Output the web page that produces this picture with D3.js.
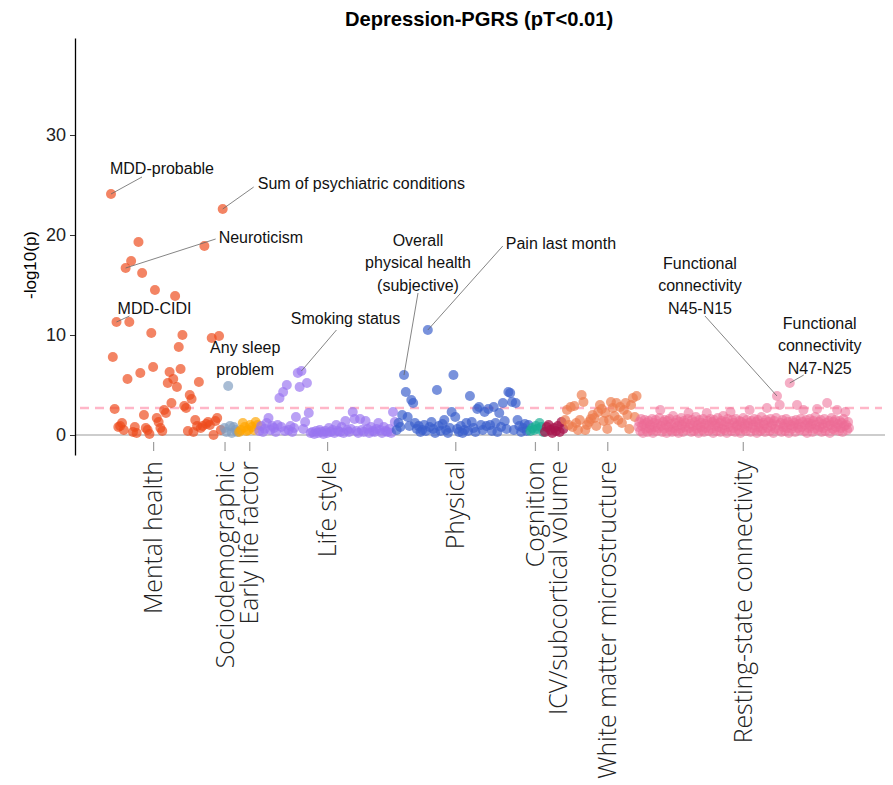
<!DOCTYPE html>
<html>
<head>
<meta charset="utf-8">
<script src="https://cdn.jsdelivr.net/npm/d3@7"></script>
<style>
  body { margin: 0; background: #fff; }
  svg { display: block; }
</style>
</head>
<body>
<script>
// Phenotype categories, in plotting order along the x axis
const categories = [
  "Mental health", "Sociodemographic", "Early life factor", "Life style", "Physical",
  "Cognition", "ICV/subcortical volume", "White matter microstructure", "Resting-state connectivity"
];
const categoryColors = [
  "#EE4A1A", "#7F9CBF", "#FFA500", "#9A75F0", "#3A5FCC",
  "#1BAE94", "#A8154E", "#EE7B4B", "#EC6B96"
];
// number of axis slots given to each category (connectivity traits are packed densely)
const categorySlots = [62, 8, 11, 75, 73, 8, 11, 40, 116];
// axis breaks (in slot units) where each category name is placed
const categoryBreaks = [23, 62, 75.5, 118, 188, 231.5, 244, 271, 345];

// -log10(p) of each phenotype, ordered as on the axis
const mentalHealth = [24.1, 7.8, 2.6, 11.3, 0.8, 0.9, 1.2, 0.5, 16.7, 5.6, 11.3, 17.4, 0.3, 0.8, 0.2, 19.3,
  6.2, 16.2, 2.0, 0.7, 0.5, 0.1, 10.2, 6.8, 14.5, 1.7, 1.3, 0.7, 0.4, 2.5, 2.2, 5.2, 6.3, 3.2, 5.6, 13.9,
  4.8, 8.8, 6.6, 10.0, 2.9, 2.7, 0.4, 4.0, 3.6, 0.3, 1.5, 0.9, 5.3, 0.7, 0.9, 18.9, 1.1, 1.3, 1.0, 9.7,
  0.0, 1.4, 1.7, 9.9, 0.5, 22.6];
const sociodemographic = [0.7, 0.3, 4.9, 0.9, 0.2, 0.8, 0.5, 0.3];
const earlyLife = [0.3, 0.5, 1.2, 0.8, 0.4, 0.5, 1.0, 0.8, 0.5, 1.3, 1.0];
const lifeStyle = [0.4, 0.9, 0.3, 0.6, 1.2, 1.7, 0.5, 0.9, 0.7, 0.3, 1.0, 3.7, 0.8, 4.3, 0.4, 5.0, 0.5,
  0.9, 0.3, 0.7, 1.8, 6.2, 4.8, 6.4, 0.6, 1.3, 5.2, 2.2, 0.2, 0.3, 0.1, 0.4, 0.2, 0.5, 0.3, 0.1, 0.4, 0.2,
  0.7, 0.3, 0.5, 0.2, 1.0, 0.4, 0.3, 0.8, 0.2, 1.4, 0.5, 0.3, 0.6, 2.3, 1.6, 0.4, 0.2, 1.6, 0.5, 0.3, 1.4,
  0.6, 0.2, 0.8, 0.4, 0.3, 0.6, 1.2, 0.5, 0.2, 0.8, 0.4, 0.3, 0.6, 0.2, 2.3, 1.3];
const physical = [0.5, 1.2, 0.8, 2.0, 6.0, 4.3, 1.8, 0.9, 3.5, 3.2, 1.2, 0.6, 0.9, 0.3, 0.5, 1.0, 0.4,
  10.5, 0.8, 1.3, 0.6, 0.2, 4.5, 0.9, 0.4, 1.1, 1.5, 0.5, 0.2, 0.7, 2.3, 6.0, 1.8, 0.6, 0.3, 0.9, 0.2, 0.5,
  1.2, 0.4, 3.9, 1.3, 0.7, 0.3, 2.6, 2.8, 1.0, 0.5, 2.3, 0.9, 2.6, 1.0, 0.4, 2.8, 1.2, 0.3, 2.2, 0.8, 3.2,
  1.4, 0.6, 4.3, 4.2, 3.3, 0.5, 3.2, 1.5, 0.9, 0.3, 0.7, 1.1, 0.4, 1.0];
const cognition = [0.4, 0.7, 0.5, 0.9, 0.6, 1.2, 0.8, 0.3];
const icvSubcortical = [0.3, 0.8, 1.0, 0.5, 0.2, 0.7, 0.4, 0.9, 0.3, 1.3, 0.6];
const whiteMatter = [1.5, 2.5, 1.0, 2.8, 0.8, 2.9, 1.2, 0.5, 1.5, 4.0, 3.3, 0.5, 1.0, 1.3, 1.6, 2.0, 1.7,
  0.9, 2.3, 3.0, 2.6, 1.4, 2.2, 0.6, 1.5, 3.3, 2.7, 1.9, 3.2, 1.5, 2.8, 1.2, 2.5, 3.2, 2.0, 0.6, 3.0, 3.7,
  1.8, 3.9];
const restingState = [
  0.8, 1.3, 0.4, 1.6, 0.9, 0.2, 1.1, 1.5, 0.6, 1.2, 0.3, 1.4, 0.7, 1.0, 0.5, 1.6, 0.2, 1.2, 0.8, 1.5,
  0.4, 1.1, 0.7, 1.7, 2.5, 0.9, 0.3, 1.3, 0.6, 1.5, 1.0, 0.2, 1.4, 0.8, 1.6, 0.5, 1.1, 0.3, 1.9, 0.7,
  1.2, 0.4, 1.5, 0.9, 0.2, 1.3, 0.6, 1.7, 1.0, 0.3, 1.4, 0.8, 1.2, 0.5, 1.6, 2.2, 0.7, 1.1, 0.3, 1.5,
  0.9, 0.4, 1.3, 1.8, 0.6, 1.0, 0.2, 1.5, 0.8, 1.2, 0.5, 1.6, 0.3, 1.1, 0.7, 2.2, 1.4, 0.4, 1.0, 1.6,
  0.6, 1.3, 0.2, 1.5, 0.9, 1.1, 0.4, 1.7, 0.8, 1.2, 0.3, 1.4, 0.6, 1.9, 1.0, 0.5, 1.3, 0.2, 1.6, 0.8,
  1.1, 2.3, 0.4, 1.5, 0.7, 1.2, 0.3, 1.6, 0.9, 1.0, 0.5, 1.4, 0.2, 1.3, 0.8, 1.7, 0.6, 1.1, 0.4, 1.5,
  0.9, 1.2, 2.5, 0.3, 1.4, 0.7, 1.0, 1.6, 0.5, 1.3, 0.2, 1.5, 0.8, 1.1, 0.4, 1.8, 0.6, 1.2, 1.0, 0.3,
  1.5, 2.7, 0.7, 1.3, 0.4, 1.6, 0.9, 1.1, 0.2, 1.4, 0.6, 1.7, 3.9, 1.0, 0.5, 3.0, 1.2, 0.3, 1.5, 0.8,
  1.1, 0.4, 1.6, 0.7, 1.3, 0.2, 5.2, 1.0, 0.6, 1.4, 0.9, 1.2, 0.3, 1.5, 3.0, 0.7, 1.1, 0.5, 1.6, 0.8,
  1.3, 2.5, 0.4, 1.0, 1.5, 0.2, 1.2, 0.7, 1.6, 0.9, 1.1, 0.3, 1.4, 0.6, 1.8, 1.0, 2.6, 0.5, 1.3, 0.8,
  1.5, 0.3, 1.1, 0.7, 1.6, 0.4, 1.2, 3.2, 0.9, 1.4, 0.2, 1.0, 1.7, 0.6, 1.3, 0.5, 1.5, 0.8, 2.5, 1.1,
  0.4, 1.4, 0.7, 1.2, 0.3, 1.6, 0.9, 2.3, 1.0, 0.5, 1.3, 0.7];

const seriesValues = [mentalHealth, sociodemographic, earlyLife, lifeStyle, physical,
  cognition, icvSubcortical, whiteMatter, restingState];

const yTicks = [0, 10, 20, 30];
const significance = 2.7;   // Bonferroni-corrected threshold on the -log10(p) scale

// Labelled phenotypes: category index, position within category, label lines
const annotations = [
  { cat: 0, idx: 0,   lines: ["MDD-probable"] },
  { cat: 0, idx: 61,  lines: ["Sum of psychiatric conditions"] },
  { cat: 0, idx: 8,   lines: ["Neuroticism"] },
  { cat: 0, idx: 3,   lines: ["MDD-CIDI"] },
  { cat: 1, idx: 2,   lines: ["Any sleep", "problem"] },
  { cat: 3, idx: 23,  lines: ["Smoking status"] },
  { cat: 4, idx: 4,   lines: ["Overall", "physical health", "(subjective)"] },
  { cat: 4, idx: 17,  lines: ["Pain last month"] },
  { cat: 8, idx: 152, lines: ["Functional", "connectivity", "N45-N15"] },
  { cat: 8, idx: 166, lines: ["Functional", "connectivity", "N47-N25"] }
];

// ---- layout ----
const W = 893, H = 785;
const axisX = 75;
const baseFont = "'Liberation Sans', Arial, sans-serif";

// label placement relative to its point: text anchor, text centre offset, leader end offset
const labelLayout = [
  { anchor: "middle", dx: 51,  dy: -26,  lx: 31, ly: -17 },
  { anchor: "start",  dx: 35,  dy: -26,  lx: 31, ly: -22 },
  { anchor: "start",  dx: 93,  dy: -31,  lx: 90, ly: -29 },
  { anchor: "middle", dx: 38,  dy: -14,  lx: 13, ly: -6 },
  { anchor: "middle", dx: 17,  dy: -39,  lx: null },
  { anchor: "middle", dx: 44,  dy: -53,  lx: 35, ly: -41 },
  { anchor: "middle", dx: 14,  dy: -135, lx: 14, ly: -82 },
  { anchor: "start",  dx: 78,  dy: -87,  lx: 75, ly: -84 },
  { anchor: "middle", dx: -77, dy: -133, lx: -72, ly: -80 },
  { anchor: "middle", dx: 30,  dy: -60,  lx: 14, ly: -8 }
];
const lineGap = 22.5;

// flatten into points: each category is spread evenly over its axis slots
const points = [];
let slot = 0;
seriesValues.forEach((vals, c) => {
  const first = slot, span = categorySlots[c] - 1;
  vals.forEach((v, k) => points.push({
    cat: c, k, v,
    pos: first + (vals.length > 1 ? k * span / (vals.length - 1) : 0)
  }));
  slot += categorySlots[c];
});

const x = d3.scaleLinear().domain([0, slot - 1]).range([111, 849]);
const y = d3.scaleLinear().domain([-2, 39.7]).range([455, 38]);

const svg = d3.select("body").append("svg")
  .attr("width", W).attr("height", H)
  .style("font-family", baseFont);

// title
svg.append("text")
  .attr("transform", "translate(479,26) scale(0.96,1)")
  .attr("text-anchor", "middle")
  .style("font-weight", "bold")
  .style("font-size", "21px")
  .text("Depression-PGRS (pT<0.01)");

// zero baseline
svg.append("line")
  .attr("x1", axisX).attr("x2", 885)
  .attr("y1", y(0)).attr("y2", y(0))
  .attr("stroke", "#bdbdbd").attr("stroke-width", 1.5);

// significance threshold
svg.append("line")
  .attr("x1", 80).attr("x2", 882)
  .attr("y1", y(significance)).attr("y2", y(significance))
  .attr("stroke", "#ffb6c8").attr("stroke-width", 2.5)
  .attr("stroke-dasharray", "9,6");

// phenotype points
svg.append("g").selectAll("circle")
  .data(points)
  .join("circle")
  .attr("cx", d => x(d.pos))
  .attr("cy", d => y(d.v))
  .attr("r", 5)
  .attr("fill", d => categoryColors[d.cat])
  .attr("fill-opacity", d => d.cat === 6 ? 0.75 : (d.cat === 8 ? 0.55 : 0.68));

// y axis
const yAxis = svg.append("g")
  .attr("transform", `translate(${axisX},0)`)
  .call(d3.axisLeft(y).tickValues(yTicks).tickSize(5).tickSizeOuter(0).tickPadding(4));
yAxis.select(".domain").attr("stroke", "#000").attr("stroke-width", 1.3);
yAxis.selectAll(".tick line").attr("stroke", "#333");
yAxis.selectAll(".tick text")
  .style("font-family", baseFont).style("font-size", "18px").attr("fill", "#222");

svg.append("text")
  .attr("transform", `translate(36,${y(17)}) rotate(-90)`)
  .attr("text-anchor", "middle")
  .style("font-size", "17px")
  .text("-log10(p)");

// category axis
const xAxis = svg.append("g")
  .attr("transform", `translate(0,${y(0) + 7})`)
  .call(d3.axisBottom(x).tickValues(categoryBreaks).tickSize(9)
    .tickFormat((d, i) => categories[i]));
xAxis.select(".domain").remove();
xAxis.selectAll(".tick line").attr("stroke", "#9e9e9e").attr("stroke-width", 1.2);
xAxis.selectAll(".tick text")
  .attr("transform", "translate(0,19) rotate(-90)")
  .attr("x", 0).attr("y", 0)
  .attr("text-anchor", "end")
  .attr("dy", "0.35em")
  .style("font-family", "'Open Sans', 'Noto Sans', sans-serif")
  .style("font-size", "24.8px")
  .style("font-weight", 300)
  .attr("fill", "#222");

// labels with leader lines
const ann = svg.append("g");
annotations.forEach((a, i) => {
  const p = points.find(d => d.cat === a.cat && d.k === a.idx);
  const px = x(p.pos), py = y(p.v);
  const L = labelLayout[i];
  if (L.lx !== null) {
    ann.append("line")
      .attr("x1", px).attr("y1", py)
      .attr("x2", px + L.lx).attr("y2", py + L.ly)
      .attr("stroke", "#666").attr("stroke-width", 0.8);
  }
  const t = ann.append("text")
    .attr("text-anchor", L.anchor)
    .style("font-size", "16px")
    .attr("fill", "#111");
  a.lines.forEach((line, j) => {
    t.append("tspan")
      .attr("x", px + L.dx)
      .attr("y", py + L.dy + j * lineGap)
      .attr("dy", "0.35em")
      .text(line);
  });
});
</script>
</body>
</html>
